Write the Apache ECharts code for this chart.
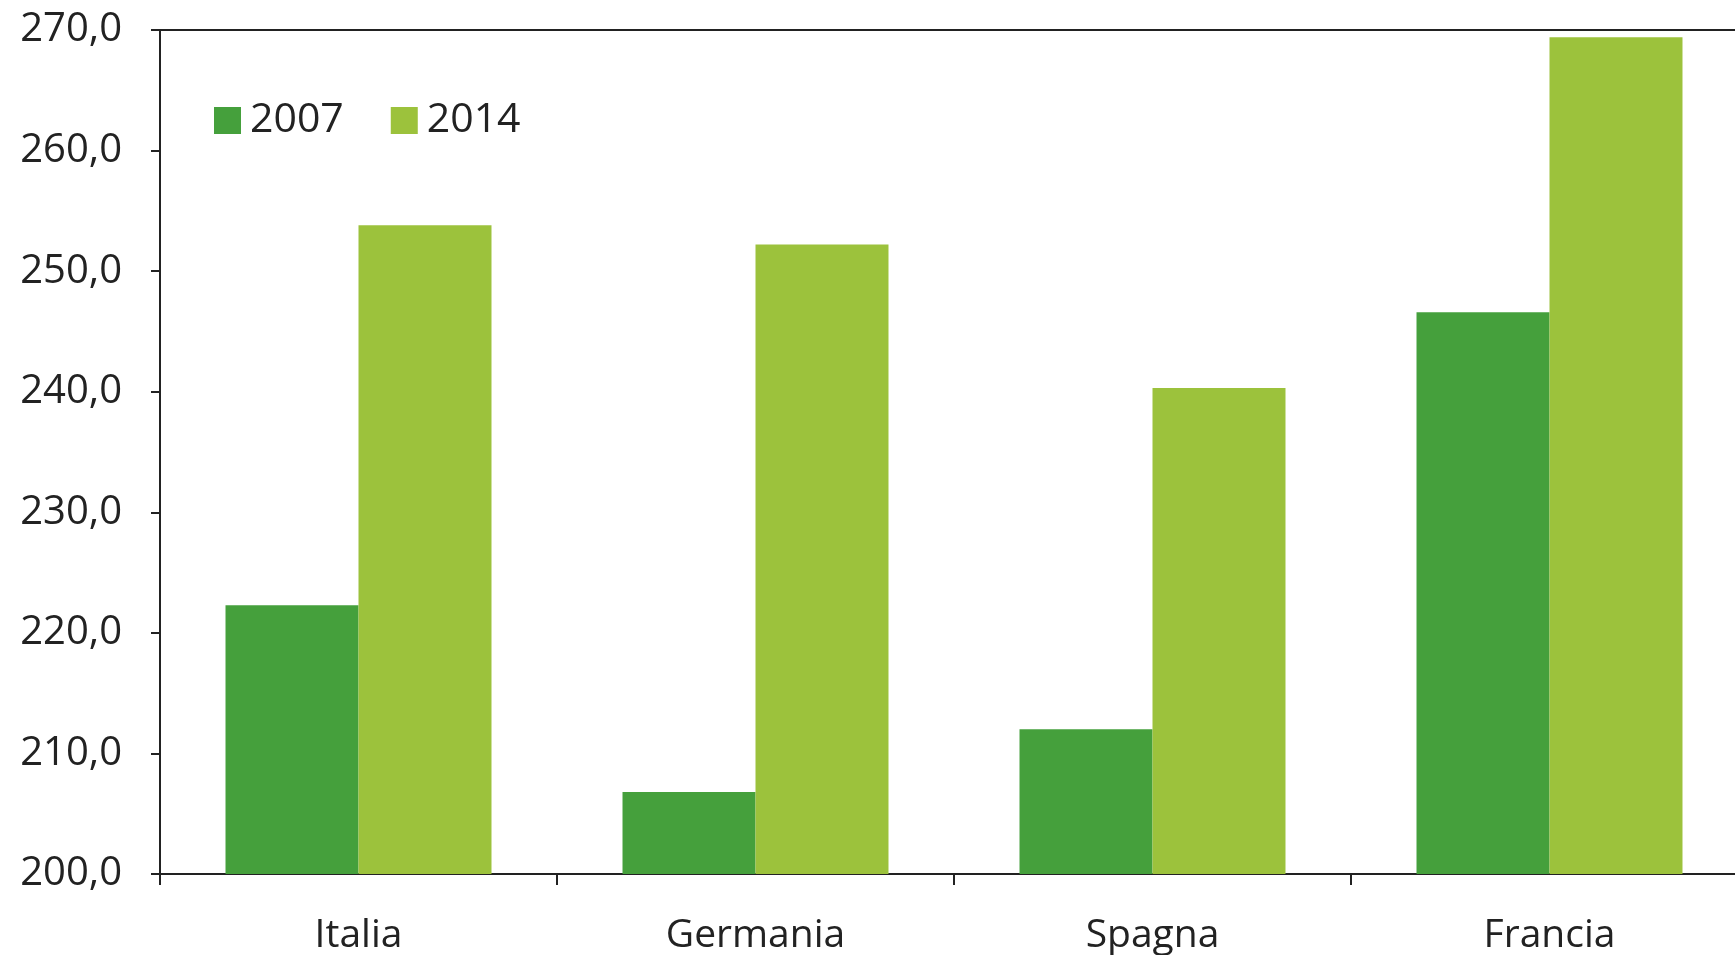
<!DOCTYPE html>
<html>
<head>
<meta charset="utf-8">
<script src="https://cdn.jsdelivr.net/npm/echarts@6/dist/echarts.min.js"></script>
<style>
  html, body { margin: 0; padding: 0; background: #fff; }
  #chart { width: 1735px; height: 955px; }
</style>
</head>
<body>
<div id="chart"></div>
<script>
// dati
const paesi = ['Italia', 'Germania', 'Spagna', 'Francia'];
const anni = ['2007', '2014'];
const valori2007 = [222.3, 206.8, 212.0, 246.6];
const valori2014 = [253.8, 252.2, 240.3, 269.4];

const colori = ['#45a03c', '#9cc23c'];
const fontTesto = '"Open Sans", Lato, sans-serif';

const chart = echarts.init(document.getElementById('chart'));

const option = {
    animation: false,
    color: colori,
    grid: {
        left: 160,
        width: 1588,
        top: 30,
        bottom: 81,
        show: true,
        borderColor: '#222',
        borderWidth: 2,
        containLabel: false,
        outerBoundsMode: 'none'
    },
    legend: {
        data: anni,
        left: 209,
        top: 95,
        itemWidth: 27,
        itemHeight: 27,
        itemGap: 47,
        icon: 'rect',
        textStyle: {
            fontFamily: fontTesto,
            fontSize: 41,
            color: '#222',
            padding: [0, 0, 0, 4]
        }
    },
    xAxis: {
        type: 'category',
        data: paesi,
        axisLine: { lineStyle: { color: '#222', width: 2 } },
        axisTick: { show: true, length: 11, lineStyle: { color: '#222', width: 2 } },
        axisLabel: {
            margin: 42,
            fontFamily: fontTesto,
            fontSize: 39,
            color: '#222'
        },
        splitLine: { show: false }
    },
    yAxis: {
        type: 'value',
        min: 200,
        max: 270,
        interval: 10,
        axisLine: { show: true, lineStyle: { color: '#222', width: 2 } },
        axisTick: { show: true, length: 9, lineStyle: { color: '#222', width: 2 } },
        axisLabel: {
            margin: 38,
            fontFamily: fontTesto,
            fontSize: 40,
            color: '#222',
            formatter: function (v) {
                return v.toFixed(1).replace('.', ',');
            }
        },
        splitLine: { show: false }
    },
    series: [
        {
            name: anni[0],
            type: 'bar',
            data: valori2007,
            barGap: '0%',
            barCategoryGap: '33%'
        },
        {
            name: anni[1],
            type: 'bar',
            data: valori2014,
            barGap: '0%',
            barCategoryGap: '33%'
        }
    ]
};

chart.setOption(option);
</script>
</body>
</html>
